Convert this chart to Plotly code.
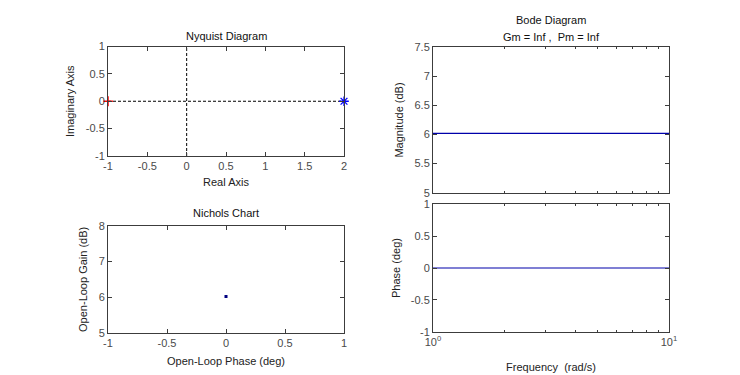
import plotly.graph_objects as go

# ---- data ----
freq = [1, 10]                 # rad/s
mag_db = [6.0206, 6.0206]      # dB
phase_deg = [0, 0]             # deg
nyq_re = [2]
nyq_im = [0]
crit_re = [-1]
crit_im = [0]
nich_phase = [0]
nich_gain = [6.0206]

# tick labels
ticks_m1_2 = [-1, -0.5, 0, 0.5, 1, 1.5, 2]
ticks_m1_1 = [-1, -0.5, 0, 0.5, 1]
ticks_mag = [5, 5.5, 6, 6.5, 7, 7.5]
ticks_gain = [5, 6, 7, 8]
freq_ticks = [1, 10]
freq_ticktext = ["10<sup>0</sup>", "10<sup>1</sup>"]
freq_minor = [2, 3, 4, 5, 6, 7, 8, 9]

W, H = 740, 375
OFF = 8  # page body margin
def px_x(a, b):
    return [(a - OFF) / W, (b - OFF) / W]
def px_y(top, bot):
    return [1 - (bot - OFF) / H, 1 - (top - OFF) / H]

def lbl(v):
    return "%g" % v

FONT = "Liberation Sans, Arial, sans-serif"
TICKC = "#4a4a4a"
AXC = "#3c3c3c"

fig = go.Figure()

# Nyquist
fig.add_trace(go.Scatter(x=[0, 0], y=[-1, 1], mode="lines", xaxis="x", yaxis="y",
                         line=dict(color="black", width=1, dash="3px,2px"), showlegend=False, hoverinfo="skip"))
fig.add_trace(go.Scatter(x=[-1, 2], y=[0, 0], mode="lines", xaxis="x", yaxis="y",
                         line=dict(color="black", width=1, dash="3px,2px"), showlegend=False, hoverinfo="skip"))
fig.add_trace(go.Scatter(x=crit_re, y=crit_im, mode="markers", xaxis="x", yaxis="y",
                         marker=dict(symbol="cross-thin", size=7, line=dict(color="red", width=1.5)),
                         showlegend=False, cliponaxis=False))
fig.add_trace(go.Scatter(x=nyq_re, y=nyq_im, mode="markers", xaxis="x", yaxis="y",
                         marker=dict(symbol="asterisk", size=8, line=dict(color="blue", width=1.3)),
                         showlegend=False, cliponaxis=False))

# Bode magnitude
fig.add_trace(go.Scatter(x=freq, y=mag_db, mode="lines", xaxis="x2", yaxis="y2",
                         line=dict(color="#0000aa", width=1.2), showlegend=False))
# Nichols
fig.add_trace(go.Scatter(x=nich_phase, y=nich_gain, mode="markers", xaxis="x3", yaxis="y3",
                         marker=dict(symbol="square", size=3, color="#000080"), showlegend=False))
# Bode phase
fig.add_trace(go.Scatter(x=freq, y=phase_deg, mode="lines", xaxis="x4", yaxis="y4",
                         line=dict(color="#0000aa", width=1.2), showlegend=False))

def lin_axis(dom, rng, tv, title=None, anchor=None, standoff=8):
    d = dict(domain=dom, range=rng, tickvals=tv, ticktext=[lbl(v) for v in tv],
             showgrid=False, zeroline=False, automargin=False,
             showline=True, linecolor=AXC, linewidth=1, mirror="ticks", ticks="inside",
             ticklen=4, tickcolor=AXC, tickfont=dict(size=11, color=TICKC, family=FONT),
             anchor=anchor)
    if title:
        d["title"] = dict(text=title, font=dict(size=11, color="#222", family=FONT), standoff=standoff)
    return d

xd1 = px_x(108, 344)
xd2 = px_x(433, 669)

fig.update_layout(
    width=W, height=H, margin=dict(l=0, r=0, t=0, b=0, autoexpand=False),
    paper_bgcolor="white", plot_bgcolor="white",
    font=dict(family=FONT),
    xaxis=lin_axis(xd1, [-1, 2], ticks_m1_2, "Real Axis", "y", 7),
    yaxis=lin_axis(px_y(46.5, 156), [-1, 1], ticks_m1_1, "Imaginary Axis", "x", 8),
    xaxis2=dict(domain=xd2, type="log", range=[0, 1], anchor="y2", showticklabels=False,
                tickvals=freq_ticks, showgrid=False, zeroline=False, showline=True, linecolor=AXC,
                automargin=False,
                mirror="ticks", ticks="inside", ticklen=4, tickcolor=AXC,
                minor=dict(tickvals=freq_minor, ticks="inside", ticklen=2, tickcolor=AXC)),
    yaxis2=lin_axis(px_y(47.3, 192.7), [5, 7.5], ticks_mag, "Magnitude (dB)", "x2", 8),
    xaxis3=lin_axis(xd1, [-1, 1], ticks_m1_1, "Open-Loop Phase (deg)", "y3", 9),
    yaxis3=lin_axis(px_y(226, 332.7), [5, 8], ticks_gain, "Open-Loop Gain (dB)", "x3", 8),
    xaxis4=dict(domain=xd2, type="log", range=[0, 1], anchor="y4",
                tickvals=freq_ticks, ticktext=freq_ticktext,
                tickfont=dict(size=11, color=TICKC, family=FONT),
                title=dict(text="Frequency  (rad/s)", font=dict(size=11, color="#222", family=FONT), standoff=16),
                showgrid=False, zeroline=False, showline=True, linecolor=AXC, automargin=False,
                mirror="ticks", ticks="inside", ticklen=4, tickcolor=AXC,
                minor=dict(tickvals=freq_minor, ticks="inside", ticklen=2, tickcolor=AXC)),
    yaxis4=lin_axis(px_y(204.3, 331.7), [-1, 1], ticks_m1_1, "Phase (deg)", "x4", 7),
)

def title(text, xc, yc):
    fig.add_annotation(text=text, x=(xc - OFF) / W, y=1 - (yc - OFF) / H, xref="paper", yref="paper",
                       showarrow=False, font=dict(size=11, color="#111", family=FONT),
                       xanchor="center", yanchor="middle")

title("Nyquist Diagram", 226, 36)
title("Bode Diagram", 551, 20)
title("Gm = Inf ,  Pm = Inf", 551, 37)
title("Nichols Chart", 226, 213)

fig.write_html("out.html")
